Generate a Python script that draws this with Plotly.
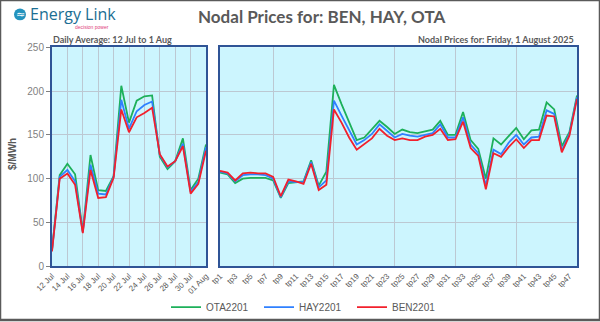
import plotly.graph_objects as go

# ---------------- data ----------------
days = ["12 Jul", "13 Jul", "14 Jul", "15 Jul", "16 Jul", "17 Jul", "18 Jul", "19 Jul",
        "20 Jul", "21 Jul", "22 Jul", "23 Jul", "24 Jul", "25 Jul", "26 Jul", "27 Jul",
        "28 Jul", "29 Jul", "30 Jul", "31 Jul", "01 Aug"]
day_ticks = days[::2]

ota_daily = [19, 104, 117, 105, 40, 127, 87, 86, 103, 206, 164, 189, 194, 195, 125,
             111, 120, 146, 87, 100, 139]
hay_daily = [18, 102, 110, 97, 39, 116, 83, 82, 102, 190, 157, 177, 184, 188, 127,
             113, 120, 140, 85, 96, 136]
ben_daily = [17, 100, 106, 93, 38, 110, 78, 79, 101, 179, 153, 170, 175, 181, 128,
             114, 120, 137, 83, 94, 132]

tps = ["tp%d" % i for i in range(1, 49)]
tp_ticks = tps[::2]
tp_grid = ["tp8", "tp16", "tp24", "tp32", "tp40", "tp48"]

ota_tp = [107, 105, 95, 100, 101, 101, 101, 98, 78, 95, 96, 97, 121, 92, 108, 207,
          185, 164, 144, 147, 156, 166, 159, 151, 156, 153, 152, 154, 156, 166, 150, 150,
          176, 144, 134, 100, 146, 139, 149, 158, 145, 155, 156, 187, 179, 137, 153, 195]
hay_tp = [108, 106, 97, 104, 105, 105, 104, 100, 79, 97, 96, 96, 119, 90, 98, 189,
          172, 155, 139, 144, 151, 162, 154, 147, 151, 149, 148, 150, 152, 162, 147, 147,
          170, 139, 129, 92, 133, 128, 141, 150, 139, 147, 148, 178, 174, 132, 151, 193]
ben_tp = [109, 107, 98, 106, 107, 106, 106, 102, 80, 99, 97, 94, 117, 87, 93, 179,
          164, 147, 133, 140, 146, 157, 149, 144, 146, 144, 144, 148, 150, 157, 144, 145,
          165, 135, 126, 88, 129, 125, 136, 145, 135, 144, 144, 172, 171, 130, 149, 191]

series_names = ["OTA2201", "HAY2201", "BEN2201"]
series_colors = ["#1DB05A", "#2F80FF", "#F2202C"]

# ---------------- figure ----------------
W, H = 600, 322
fig = go.Figure()

daily = [ota_daily, hay_daily, ben_daily]
tpvals = [ota_tp, hay_tp, ben_tp]
tp_x = list(range(1, len(tps) + 1))

for name, col, d, t in zip(series_names, series_colors, daily, tpvals):
    fig.add_trace(go.Scatter(x=days, y=d, mode="lines", name=name,
                             line=dict(color=col, width=1.8), xaxis="x", yaxis="y",
                             legendgroup=name, showlegend=True))
    fig.add_trace(go.Scatter(x=tp_x, y=t, mode="lines", name=name,
                             line=dict(color=col, width=1.8), xaxis="x2", yaxis="y2",
                             legendgroup=name, showlegend=False))

def px_x(p):
    return p / W

def px_y(p):
    return 1 - p / H

border = "#2F5496"
grid = "#BCC8D2"
tickfont = dict(family="Liberation Sans", size=8, color="#595959")

ydom = [px_y(268), px_y(47.5)]

fig.update_layout(
    width=W, height=H,
    margin=dict(l=0, r=0, t=0, b=0),
    paper_bgcolor="white",
    plot_bgcolor="#CCF5FE",
    showlegend=True,
    legend=dict(orientation="h", x=px_x(166), y=px_y(309), xanchor="left", yanchor="middle",
                font=dict(family="Liberation Sans", size=10, color="#595959"),
                entrywidth=48, entrywidthmode="pixels", itemwidth=30,
                bgcolor="rgba(0,0,0,0)", tracegroupgap=0),
    xaxis=dict(domain=[px_x(52), px_x(206)], type="category", range=[0, len(days) - 1],
               tickvals=day_ticks, ticktext=day_ticks, tickangle=-45, tickfont=tickfont,
               showgrid=True, gridcolor=grid, gridwidth=1,
               showline=True, mirror=True, linecolor=border, linewidth=2,
               ticks="", zeroline=False, automargin=False, fixedrange=True),
    yaxis=dict(domain=ydom, range=[0, 250], dtick=50, anchor="x",
               tickfont=dict(family="Liberation Sans", size=10, color="#7F7F7F"),
               ticks="outside", ticklen=4, tickcolor="#7F7F7F",
               showgrid=True, gridcolor=grid, gridwidth=1,
               showline=True, mirror=True, linecolor=border, linewidth=2,
               zeroline=False, automargin=False),
    xaxis2=dict(domain=[px_x(220), px_x(577)], range=[1, len(tps)], anchor="y2",
                tickmode="array", tickvals=[tp_x[tps.index(t)] for t in tp_ticks],
                ticktext=tp_ticks, tickangle=-45, tickfont=tickfont,
                showgrid=False,
                minor=dict(tickmode="array",
                           tickvals=[tp_x[tps.index(t)] for t in tp_grid],
                           showgrid=True, gridcolor=grid, gridwidth=1, ticks=""),
                showline=True, mirror=True, linecolor=border, linewidth=2,
                ticks="", zeroline=False, automargin=False),
    yaxis2=dict(domain=ydom, range=[0, 250], dtick=50, anchor="x2",
                showticklabels=False, showgrid=True, gridcolor=grid, gridwidth=1,
                showline=True, mirror=True, linecolor=border, linewidth=2,
                zeroline=False, automargin=False),
)

# outer frame
fig.add_shape(type="rect", xref="paper", yref="paper", x0=0, y0=0, x1=1, y1=1,
              line=dict(color="#5A5A5A", width=2.5), fillcolor="rgba(0,0,0,0)")

# logo icon
fig.add_shape(type="circle", xref="paper", yref="paper",
              x0=px_x(14), x1=px_x(26), y0=px_y(20.5), y1=px_y(8.5),
              fillcolor="#2393BE", line=dict(color="#2393BE", width=0))
fig.add_annotation(x=px_x(20), y=px_y(14.5), xref="paper", yref="paper",
                   text="≈", showarrow=False, xanchor="center", yanchor="middle",
                   font=dict(family="DejaVu Sans", size=11, color="white"))
fig.add_annotation(x=px_x(27.5), y=px_y(14), xref="paper", yref="paper",
                   text="Energy Link", showarrow=False, xanchor="left", yanchor="middle",
                   font=dict(family="Open Sans", size=16, color="#1B6E93"))
fig.add_annotation(x=px_x(111), y=px_y(27), xref="paper", yref="paper",
                   text="decision power", showarrow=False, xanchor="right", yanchor="middle",
                   font=dict(family="Liberation Sans", size=5, color="#E0407A"))

# title
fig.add_annotation(x=px_x(321), y=px_y(17), xref="paper", yref="paper",
                   text="<b>Nodal Prices for: BEN, HAY, OTA</b>", showarrow=False,
                   xanchor="center", yanchor="middle",
                   font=dict(family="Lato", size=17, color="#595959"))

# sub titles
fig.add_annotation(x=px_x(51), y=px_y(40), xref="paper", yref="paper",
                   text="<b>Daily Average: 12 Jul to 1 Aug</b>", showarrow=False,
                   xanchor="left", yanchor="middle",
                   font=dict(family="Lato", size=9, color="#595959"))
fig.add_annotation(x=px_x(576), y=px_y(40), xref="paper", yref="paper",
                   text="<b>Nodal Prices for: Friday, 1 August 2025</b>", showarrow=False,
                   xanchor="right", yanchor="middle",
                   font=dict(family="Lato", size=9, color="#595959"))

# y axis title
fig.add_annotation(x=px_x(12), y=px_y(155), xref="paper", yref="paper",
                   text="<b>$/MWh</b>", showarrow=False, textangle=-90,
                   xanchor="center", yanchor="middle",
                   font=dict(family="Liberation Sans", size=10, color="#595959"))

fig.write_html("out.html")
